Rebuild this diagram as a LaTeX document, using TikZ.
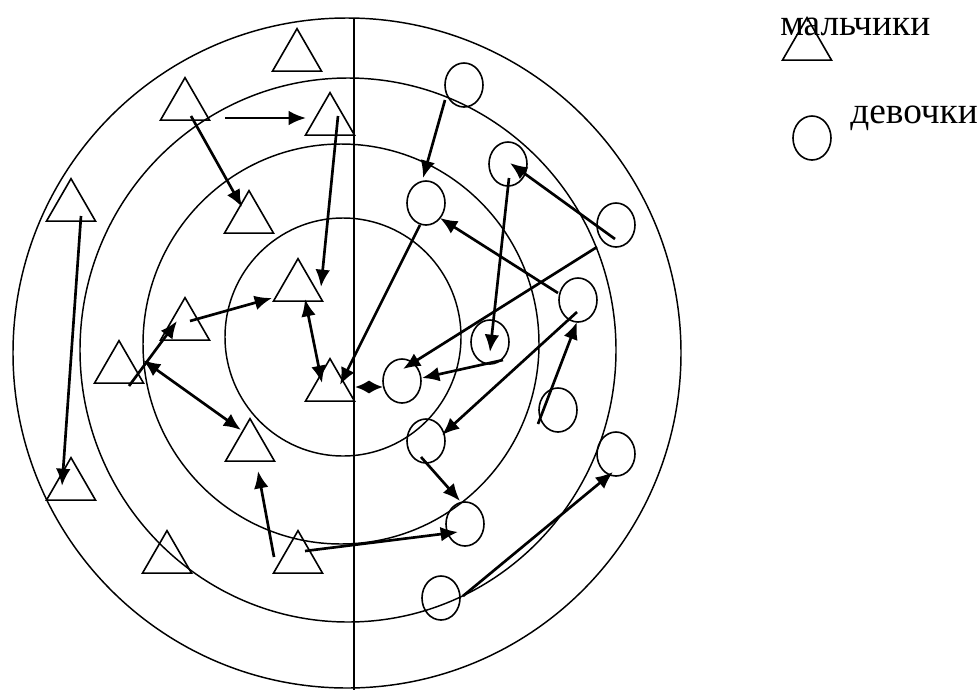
\documentclass[tikz,border=0pt]{standalone}
\usepackage{fontspec}
\setmainfont{Liberation Serif}
\usetikzlibrary{arrows.meta,calc,shapes.geometric}
\begin{document}
\begin{tikzpicture}[x=0.75pt,y=-0.75pt,
  boy/.style={draw,line width=1.2pt,regular polygon,regular polygon sides=3,minimum size=42.5pt,inner sep=0pt},
  girl/.style={draw,line width=1.2pt,ellipse,minimum width=28.5pt,minimum height=33pt,inner sep=0pt},
  arr/.style={line width=2pt,-{Latex[length=13pt,width=11pt]}},
  darr/.style={line width=2pt,{Latex[length=13pt,width=11pt]}-{Latex[length=13pt,width=11pt]}},
  lbl/.style={inner sep=0pt,anchor=base west,font=\fontsize{28}{31}\selectfont}]
\useasboundingbox (0,0) rectangle (979,690);
\draw[line width=1.1pt] (347,353) ellipse [x radius=334, y radius=335];
\draw[line width=1.1pt] (348,350) ellipse [x radius=268, y radius=272];
\draw[line width=1.1pt] (341,344) ellipse [x radius=198, y radius=200];
\draw[line width=1.1pt] (343,337) ellipse [x radius=118, y radius=119];
\draw[line width=1.1pt] (354,18) -- (354,690);
\node[boy] (t1) at (297,57) {};
\node[boy] (t2) at (185,106) {};
\node[boy] (t3) at (330,121) {};
\node[boy] (t4) at (71,207) {};
\node[boy] (t5) at (249,219) {};
\node[boy] (t6) at (298,287) {};
\node[boy] (t7) at (185,326) {};
\node[boy] (t8) at (119,369) {};
\node[boy] (t9) at (330,387) {};
\node[boy] (t10) at (250,447) {};
\node[boy] (t11) at (71,486) {};
\node[boy] (t12) at (167,559) {};
\node[boy] (t13) at (298,559) {};
\node[girl] (g1) at (464,85) {};
\node[girl] (g2) at (508,164) {};
\node[girl] (g3) at (426,203) {};
\node[girl] (g4) at (616,225) {};
\node[girl] (g5) at (578,300) {};
\node[girl] (g6) at (490,342) {};
\node[girl] (g7) at (402,381) {};
\node[girl] (g8) at (558,410) {};
\node[girl] (g9) at (426,441) {};
\node[girl] (g10) at (616,454) {};
\node[girl] (g11) at (465,524) {};
\node[girl] (g12) at (441,598) {};
\draw[arr] ($(t2)+(40,12)$) -- ($(t3)+(-24,-3)$);
\draw[arr] ($(t2)+(6,10)$) -- ($(t5)+(-7,-12)$);
\draw[arr] ($(t3)+(8,-5)$) -- ($(t6)+(23,0)$);
\draw[arr] ($(t4)+(10,9)$) -- ($(t11)+(-9,0)$);
\draw[arr] ($(t7)+(5,-5)$) -- ($(t6)+(-26,11)$);
\draw[darr] ($(t6)+(7,12)$) -- ($(t9)+(-8,-4)$);
\draw[arr] ($(t8)+(10,17)$) -- ($(t7)+(-8,-5)$);
\draw[darr] ($(t8)+(24,-9)$) -- ($(t10)+(-9,-17)$);
\draw[arr] ($(t13)+(-24,-2)$) -- ($(t10)+(8,24)$);
\draw[arr] ($(t13)+(7,-8)$) -- ($(g11)+(-7,8)$);
\draw[arr] ($(g3)+(-6,22)$) -- ($(t9)+(10,-2)$);
\draw[line width=2pt,{Latex[length=10.5pt,width=10pt]}-{Latex[length=10.5pt,width=10pt]}] ($(t9)+(25,0)$) -- ($(g7)+(-19,6)$);
\draw[arr] ($(g1)+(-19,15)$) -- ($(g3)+(-3,-25)$);
\draw[arr] ($(g4)+(-1,14)$) -- ($(g2)+(2,-1)$);
\draw[arr] ($(g2)+(1,14)$) -- ($(g6)+(0,10)$);
\draw[arr] ($(g5)+(-20,-7)$) -- ($(g3)+(14,15)$);
\draw[arr] ($(g4)+(-19,22)$) -- ($(g7)+(1,-12)$);
\draw[arr] ($(g5)+(-1,12)$) -- ($(g9)+(16,-6)$);
\draw[arr] ($(g6)+(13,18)$) -- ($(g7)+(20,-3)$);
\draw[arr] ($(g8)+(-20,14)$) -- ($(g5)+(-1,22)$);
\draw[arr] ($(g9)+(-5,16)$) -- ($(g11)+(-5,-23)$);
\draw[arr] ($(g12)+(22,-2)$) -- ($(g10)+(-3,18)$);
\node[lbl] (lboys) at (780,35) {мальчики};
\node[boy] (tl) at (807,46) {};
\node[girl] (gl) at (812,138) {};
\node[lbl] (lgirls) at (850,123) {девочки};
\end{tikzpicture}
\end{document}
